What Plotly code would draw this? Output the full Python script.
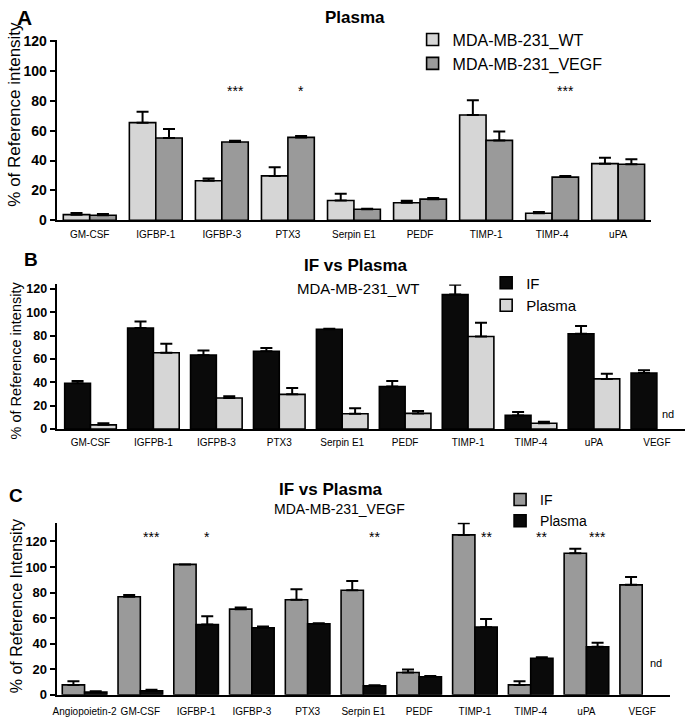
import plotly.graph_objects as go

W, H = 685, 723

# ---------------- Panel A : Plasma ----------------
cats_a = ["GM-CSF", "IGFBP-1", "IGFBP-3", "PTX3", "Serpin E1", "PEDF", "TIMP-1", "TIMP-4", "uPA"]
a_wt = [3.7, 65.4, 26.4, 29.7, 13.2, 11.7, 70.5, 4.6, 37.9]
a_wt_err = [1.1, 7.3, 1.6, 5.8, 4.6, 1.3, 9.9, 0.9, 3.9]
a_vegf = [3.3, 55.1, 52.4, 55.5, 7.3, 14.1, 53.5, 28.9, 37.5]
a_vegf_err = [0.9, 6.1, 0.9, 0.9, 0.4, 0.7, 6.0, 0.8, 3.4]
a_sig = ["", "", "***", "*", "", "", "", "***", ""]
a_sig_y = 89.2

# ---------------- Panel B : IF vs Plasma, WT ----------------
cats_b = ["GM-CSF", "IGFPB-1", "IGFPB-3", "PTX3", "Serpin E1", "PEDF", "TIMP-1", "TIMP-4", "uPA", "VEGF"]
b_if = [39.2, 86.4, 63.2, 66.6, 85.3, 36.4, 115.0, 11.7, 81.5, 47.9]
b_if_err = [1.9, 5.6, 3.9, 2.8, 0.4, 4.7, 8.4, 2.8, 6.7, 2.5]
b_plasma = [3.6, 65.2, 26.6, 29.7, 13.1, 13.4, 79.2, 5.0, 42.9, None]
b_plasma_err = [1.4, 7.8, 1.4, 5.5, 4.8, 2.0, 11.7, 1.2, 4.4, None]
b_nd_y = 12.8

# ---------------- Panel C : IF vs Plasma, VEGF ----------------
cats_c = ["Angiopoietin-2", "GM-CSF", "IGFBP-1", "IGFBP-3", "PTX3", "Serpin E1", "PEDF",
          "TIMP-1", "TIMP-4", "uPA", "VEGF"]
c_if = [7.7, 76.7, 102.0, 67.0, 74.4, 81.8, 17.4, 125.1, 7.7, 110.7, 86.0]
c_if_err = [2.8, 1.3, 0.0, 1.3, 8.2, 7.2, 2.3, 9.2, 2.8, 3.5, 6.2]
c_plasma = [2.0, 3.1, 55.0, 52.4, 55.5, 6.9, 14.1, 52.9, 28.6, 37.5, None]
c_plasma_err = [0.8, 0.7, 6.4, 1.1, 0.5, 0.5, 0.5, 6.4, 0.8, 3.1, None]
c_sig = ["", "***", "*", "", "", "**", "", "**", "**", "***", ""]
c_sig_y = 126.6
c_nd_y = 25.0

ticks_y = [0, 20, 40, 60, 80, 100, 120]

LIGHT = "#d6d6d6"
MID = "#9a9a9a"
DARK = "#0a0a0a"
FONT = "Liberation Sans, Arial, sans-serif"


def px_x(v):
    return v / W


def px_y(v):
    return 1 - v / H


def err(vals):
    return dict(type="data", array=vals, arrayminus=[0] * len(vals), symmetric=False,
                color="black", thickness=2, width=6, visible=True)


def bar(cats, vals, errs, name, color, offset, width, xa, ya, legend):
    return go.Bar(x=cats, y=vals, name=name, width=width, offset=offset,
                  marker=dict(color=color, line=dict(color="black", width=1.6)),
                  error_y=err(errs), xaxis=xa, yaxis=ya, legend=legend)


fig = go.Figure()
fig.add_trace(bar(cats_a, a_wt, a_wt_err, "MDA-MB-231_WT", LIGHT, -0.4, 0.4, "x", "y", "legend"))
fig.add_trace(bar(cats_a, a_vegf, a_vegf_err, "MDA-MB-231_VEGF", MID, 0.0, 0.4, "x", "y", "legend"))
fig.add_trace(bar(cats_b, b_if, b_if_err, "IF", DARK, -0.41, 0.41, "x2", "y2", "legend2"))
fig.add_trace(bar(cats_b, b_plasma, b_plasma_err, "Plasma", LIGHT, 0.0, 0.41, "x2", "y2", "legend2"))
fig.add_trace(bar(cats_c, c_if, c_if_err, "IF", MID, -0.4, 0.4, "x3", "y3", "legend3"))
fig.add_trace(bar(cats_c, c_plasma, c_plasma_err, "Plasma", DARK, 0.0, 0.4, "x3", "y3", "legend3"))

xcommon = dict(showline=True, linecolor="black", linewidth=2, ticks="", showgrid=False,
               zeroline=False, tickfont=dict(family=FONT, size=10, color="black"),
               type="category", fixedrange=True)
ycommon = dict(showline=True, linecolor="black", linewidth=2, ticks="outside", ticklen=5,
               tickwidth=1.6, tickcolor="black", showgrid=False, zeroline=False,
               tickvals=ticks_y, fixedrange=True)

layout = dict(
    width=W, height=H, margin=dict(l=0, r=0, t=0, b=0),
    paper_bgcolor="white", plot_bgcolor="white", barmode="overlay",
    font=dict(family=FONT, color="black"),
    xaxis=dict(xcommon, domain=[px_x(53), px_x(651)], range=[-0.5, 8.5], anchor="y",
               ticklabelstandoff=4),
    yaxis=dict(ycommon, domain=[px_y(217.7), px_y(34.2)], range=[0, 120.5], anchor="x",
               tickfont=dict(family=FONT, size=14, weight="bold", color="black")),
    xaxis2=dict(xcommon, domain=[px_x(53), 1.0], range=[-0.537, 9.447], anchor="y2",
                ticklabelstandoff=3),
    yaxis2=dict(ycommon, domain=[px_y(431), px_y(283.3)], range=[0, 123.7], anchor="x2",
                tickfont=dict(family=FONT, size=12.5, weight="bold", color="black")),
    xaxis3=dict(xcommon, domain=[px_x(53), px_x(670)], range=[-0.5, 10.5], anchor="y3",
                ticklabelstandoff=6),
    yaxis3=dict(ycommon, domain=[px_y(702.3), px_y(526.7)], range=[0, 134.6], anchor="x3",
                tickfont=dict(family=FONT, size=13, weight="bold", color="black")),
    legend=dict(x=px_x(411), y=px_y(16), xanchor="left", yanchor="top",
                font=dict(family=FONT, size=16, color="black"), bgcolor="rgba(0,0,0,0)",
                tracegroupgap=0, traceorder="normal"),
    legend2=dict(x=px_x(485), y=px_y(265), xanchor="left", yanchor="top",
                 font=dict(family=FONT, size=15, color="black"), bgcolor="rgba(0,0,0,0)",
                 tracegroupgap=0, traceorder="normal"),
    legend3=dict(x=px_x(499), y=px_y(487), xanchor="left", yanchor="top",
                 font=dict(family=FONT, size=14, color="black"), bgcolor="rgba(0,0,0,0)",
                 tracegroupgap=0, traceorder="normal"),
    showlegend=True,
)
fig.update_layout(**layout)

ann = []


def text_px(x, y, text, size, bold=False, angle=0):
    ann.append(dict(x=px_x(x), y=px_y(y), xref="paper", yref="paper", text=text,
                    showarrow=False, xanchor="center", yanchor="middle", textangle=angle,
                    font=dict(family=FONT, size=size, color="black",
                              weight="bold" if bold else "normal")))


# panel letters & titles
text_px(21, 11, "A", 21, True)
text_px(353.5, 11, "Plasma", 17, True)
text_px(27, 258, "B", 19, True)
text_px(354, 264, "IF vs Plasma", 17, True)
text_px(357, 287, "MDA-MB-231_WT", 15)
text_px(12, 499, "C", 19, True)
text_px(329, 493, "IF vs Plasma", 17, True)
text_px(337, 513, "MDA-MB-231_VEGF", 14)

# y axis titles
text_px(11, 109, "% of Reference intensity", 17, angle=-90)
text_px(12, 361, "% of Reference intensity", 14.5, angle=-90)
text_px(12, 612, "% of Reference Intensity", 16, angle=-90)

# significance stars
for c, s in zip(cats_a, a_sig):
    if s:
        ann.append(dict(x=c, y=a_sig_y, xref="x", yref="y", text=s, showarrow=False,
                        xshift=13.3, yshift=-4, font=dict(family=FONT, size=14, color="black")))
for c, s in zip(cats_c, c_sig):
    if s:
        ann.append(dict(x=c, y=c_sig_y, xref="x3", yref="y3", text=s, showarrow=False,
                        xshift=11.2, yshift=-4, font=dict(family=FONT, size=14, color="black")))

# not detected labels
for c, v in zip(cats_b, b_plasma):
    if v is None:
        ann.append(dict(x=c, y=b_nd_y, xref="x2", yref="y2", text="nd", showarrow=False,
                        xshift=11, font=dict(family=FONT, size=11, color="black")))
for c, v in zip(cats_c, c_plasma):
    if v is None:
        ann.append(dict(x=c, y=c_nd_y, xref="x3", yref="y3", text="nd", showarrow=False,
                        xshift=14, font=dict(family=FONT, size=11, color="black")))

fig.update_layout(annotations=ann)
fig.write_html("out.html", config={"displayModeBar": False},
               post_script="document.body.style.margin='0';document.body.style.overflow='hidden';")
